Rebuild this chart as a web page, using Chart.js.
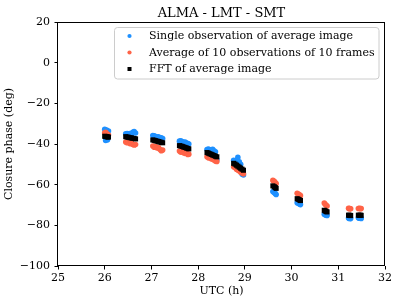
<!DOCTYPE html>
<html>
<head>
<meta charset="utf-8">
<script src="https://cdn.jsdelivr.net/npm/chart.js@4/dist/chart.umd.min.js"></script>
<style>
  html, body { margin: 0; padding: 0; background: #fff; }
  #wrap { width: 399px; height: 304px; }
</style>
</head>
<body>
<div id="wrap"><canvas id="c" width="399" height="304"></canvas></div>
<script>
// ---- Data ----
const chartTitle = 'ALMA - LMT - SMT';
const seriesLabels = [
  'Single observation of average image',
  'Average of 10 observations of 10 frames',
  'FFT of average image'
];
const utcHours = [
  26.00, 26.02, 26.04, 26.06, 26.08,
  26.45, 26.48, 26.51, 26.54, 26.57, 26.60, 26.63, 26.66,
  27.03, 27.06, 27.09, 27.12, 27.15, 27.18, 27.21, 27.24,
  27.60, 27.63, 27.66, 27.69, 27.72, 27.75, 27.78, 27.80,
  28.19, 28.22, 28.25, 28.28, 28.31, 28.34, 28.37, 28.40,
  28.76, 28.79, 28.82, 28.85, 28.88, 28.91, 28.94, 28.97,
  29.60, 29.63, 29.65, 29.67,
  30.12, 30.145, 30.17, 30.19,
  30.70, 30.72, 30.74, 30.76,
  31.22, 31.235, 31.25, 31.265,
  31.43, 31.45, 31.47, 31.49
];
const singleObservation = [
  -32.8, -38.3, -33.2, -37.9, -33.6,
  -35.0, -34.8, -35.2, -34.9, -35.3, -34.2, -33.9, -34.6,
  -35.8, -36.0, -36.3, -36.6, -36.5, -36.9, -37.0, -37.3,
  -38.6, -38.4, -38.9, -39.2, -39.0, -39.5, -39.8, -40.0,
  -42.7, -42.5, -43.0, -42.9, -42.6, -43.4, -43.8, -47.8,
  -48.0, -48.3, -49.0, -46.6, -48.8, -50.0, -54.8, -55.2,
  -63.4, -63.9, -64.3, -64.8,
  -68.9, -69.2, -69.5, -69.8,
  -74.5, -74.8, -75.0, -75.2,
  -76.4, -76.6, -76.5, -76.7,
  -76.3, -76.5, -76.4, -76.6
];
const averageOf10 = [
  -34.5, -34.3, -34.9, -35.2, -35.6,
  -39.0, -39.4, -39.2, -39.8, -39.6, -40.2, -40.5, -40.3,
  -41.0, -41.6, -41.3, -42.0, -41.8, -42.6, -43.3, -43.0,
  -43.5, -44.0, -43.8, -44.3, -44.6, -44.4, -45.2, -45.0,
  -46.3, -46.8, -46.6, -47.2, -47.5, -47.9, -48.4, -48.6,
  -51.2, -51.6, -52.4, -52.8, -53.3, -53.9, -54.3, -54.6,
  -57.9, -58.3, -58.9, -59.4,
  -64.2, -64.6, -65.0, -65.4,
  -69.0, -69.6, -70.1, -70.5,
  -71.6, -71.8, -71.7, -71.9,
  -71.7, -71.6, -71.8, -71.7
];
const fftAverage = [
  -36.2, -36.3, -36.4, -36.5, -36.6,
  -36.4, -36.6, -36.7, -36.9, -37.0, -37.2, -37.3, -37.5,
  -38.0, -38.2, -38.4, -38.6, -38.8, -39.0, -39.2, -39.4,
  -40.8, -41.0, -41.2, -41.5, -41.7, -42.0, -42.2, -42.4,
  -44.2, -44.5, -44.8, -45.1, -45.4, -45.7, -46.0, -46.3,
  -49.5, -49.9, -50.4, -50.9, -51.4, -51.9, -52.4, -52.9,
  -60.6, -61.0, -61.4, -61.8,
  -66.9, -67.2, -67.5, -67.8,
  -72.6, -72.9, -73.2, -73.4,
  -75.0, -75.1, -75.1, -75.2,
  -75.0, -75.1, -75.0, -75.1
];
const xRange = [25, 32];
const yRange = [-100, 20];
const xTickStep = 1;
const yTickStep = 20;

// ---- Build ----
const toPoints = vals => vals.map((v, i) => ({ x: utcHours[i], y: v }));
const FONT = "'DejaVu Serif', serif";
const FS = 11;
Chart.defaults.font.family = FONT;
Chart.defaults.color = '#000';

const frameAndLegend = {
  id: 'frameAndLegend',
  afterDraw(chart) {
    const { ctx, chartArea: a } = chart;
    ctx.save();
    // full box (spines)
    ctx.strokeStyle = '#000';
    ctx.lineWidth = 1;
    const l = Math.round(a.left) - 0.5, t = Math.round(a.top) + 0.5;
    const r = Math.round(a.right) - 0.5, b = Math.round(a.bottom) - 0.5;
    ctx.strokeRect(l, t, r - l, b - t);

    // title centred over the axes
    ctx.fillStyle = '#000';
    ctx.font = "13px " + FONT;
    ctx.textAlign = 'center';
    ctx.textBaseline = 'alphabetic';
    ctx.fillText(chartTitle, (a.left + a.right) / 2, 16.5);

    // legend inside the plot, upper right
    const bx = a.left + 56.5, by = a.top + 5.5, bw = a.right - 6 - bx, bh = 51.5;
    ctx.fillStyle = 'rgba(255,255,255,0.8)';
    ctx.strokeStyle = '#cccccc';
    ctx.lineWidth = 1;
    ctx.beginPath();
    ctx.roundRect(bx, by, bw, bh, 3);
    ctx.fill();
    ctx.stroke();

    const ds = chart.data.datasets;
    const rowY = [by + 8.5, by + 25, by + 41.5];
    const mx = bx + 15, tx = bx + 34.5;
    ctx.font = FS + "px " + FONT;
    ctx.textBaseline = 'middle';
    ctx.textAlign = 'left';
    ds.forEach((d, i) => {
      ctx.fillStyle = d.backgroundColor;
      if (d.pointStyle === 'rect') {
        ctx.fillRect(mx - 2, rowY[i] - 2, 4, 4);
      } else {
        ctx.beginPath();
        ctx.arc(mx, rowY[i], 2.1, 0, Math.PI * 2);
        ctx.fill();
      }
      ctx.fillStyle = '#000';
      ctx.fillText(d.label, tx, rowY[i] + 0.5);
    });
    ctx.restore();
  }
};

new Chart(document.getElementById('c'), {
  type: 'scatter',
  data: {
    datasets: [
      { label: seriesLabels[0], data: toPoints(singleObservation), backgroundColor: '#1E90FF',
        borderWidth: 0, pointRadius: 2.8, pointHoverRadius: 2.8, order: 3 },
      { label: seriesLabels[1], data: toPoints(averageOf10), backgroundColor: '#FF6347',
        borderWidth: 0, pointRadius: 2.8, pointHoverRadius: 2.8, order: 2 },
      { label: seriesLabels[2], data: toPoints(fftAverage), backgroundColor: '#000000',
        borderWidth: 0, pointStyle: 'rect', pointRadius: 3.6, pointHoverRadius: 3.6, order: 1 }
    ]
  },
  options: {
    responsive: false,
    animation: false,
    layout: { padding: { left: 0, right: 14, top: 22, bottom: 0 } },
    plugins: {
      legend: { display: false },
      tooltip: { enabled: false },
      title: { display: false }
    },
    scales: {
      x: {
        type: 'linear', min: xRange[0], max: xRange[1],
        afterFit: s => { s.height = 38; },
        border: { display: false },
        grid: { display: true, drawOnChartArea: false, drawTicks: true, tickLength: 3.5, color: '#000' },
        ticks: { stepSize: xTickStep, font: { size: FS, family: FONT }, padding: 2.5, color: '#000' },
        title: { display: true, text: 'UTC (h)', font: { size: FS, family: FONT }, padding: { top: 0, bottom: 6.5 }, color: '#000' }
      },
      y: {
        type: 'linear', min: yRange[0], max: yRange[1],
        afterFit: s => { s.width = 58; },
        border: { display: false },
        grid: { display: true, drawOnChartArea: false, drawTicks: true, tickLength: 3.5, color: '#000' },
        ticks: { stepSize: yTickStep, font: { size: FS, family: FONT }, padding: 4.5, color: '#000',
                 callback: v => String(v).replace('-', '\u2212') },
        title: { display: true, text: 'Closure phase (deg)', font: { size: FS, family: FONT }, padding: { top: 3, bottom: 0 }, color: '#000' }
      }
    }
  },
  plugins: [frameAndLegend]
});
</script>
</body>
</html>
